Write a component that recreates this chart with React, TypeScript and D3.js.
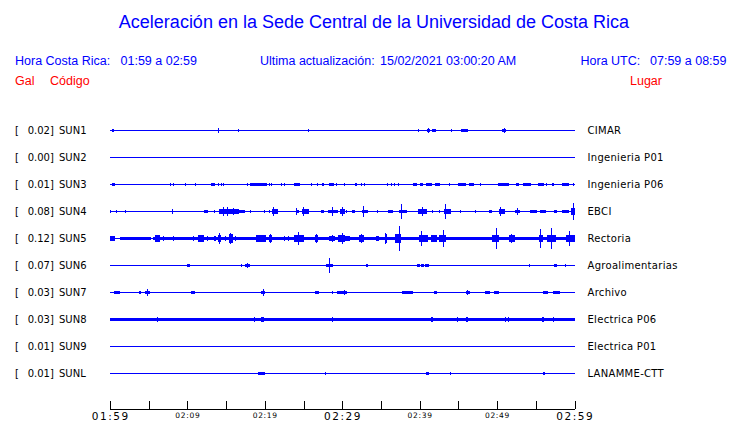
import React from "react";
import * as d3 from "d3";

type Ev = [number, number, number]; // [start minute, end minute, half-amplitude in Gal]

const stations = ["SUN1", "SUN2", "SUN3", "SUN4", "SUN5", "SUN6", "SUN7", "SUN8", "SUN9", "SUNL"];
const peakGal = ["0.02", "0.00", "0.01", "0.08", "0.12", "0.07", "0.03", "0.03", "0.01", "0.01"];
const places = ["CIMAR", "Ingenieria P01", "Ingenieria P06", "EBCI", "Rectoria", "Agroalimentarias", "Archivo", "Electrica P06", "Electrica P01", "LANAMME-CTT"];
const noiseGal = [0, 0, 0, 0, 0, 0, 0, 0.018, 0, 0];

const tickMinutes = [0, 5, 10, 15, 20, 25, 30, 35, 40, 45, 50, 55, 60];
const labelMinutes = [0, 10, 20, 30, 40, 50, 60];
const axisLabels = ["01:59", "02:09", "02:19", "02:29", "02:39", "02:49", "02:59"];
const bigLabels = ["01:59", "02:29", "02:59"];

const sun1: Ev[] = [[0.2,0.5,0.013],[14.0,14.0,0.022],[16.6,16.6,0.013],[25.6,25.6,0.012],[39.9,39.9,0.01],[40.95,41.3,0.015],[41.1,41.1,0.024],[41.64,42.16,0.013],[44.1,44.1,0.01],[45.4,46.3,0.013],[50.6,51.1,0.015],[50.9,50.9,0.02],[57.7,57.7,0.008]];
const sun2: Ev[] = [];
const sun3: Ev[] = [[0.3,0.6,0.013],[7.0,7.0,0.008],[7.8,7.8,0.012],[8.2,8.2,0.012],[9.7,9.7,0.012],[11.1,11.1,0.012],[13.0,13.6,0.013],[14.0,14.0,0.012],[14.4,14.4,0.012],[14.7,14.7,0.012],[15.4,15.4,0.008],[17.8,17.8,0.01],[18.1,20.3,0.014],[20.6,20.6,0.012],[20.9,20.9,0.012],[22.2,22.2,0.012],[22.5,22.5,0.012],[23.8,24.6,0.013],[26.0,26.0,0.01],[26.8,26.8,0.01],[27.4,27.6,0.012],[28.3,28.9,0.013],[29.3,29.3,0.01],[30.3,30.3,0.01],[31.7,31.9,0.012],[32.5,32.5,0.01],[32.9,32.9,0.01],[34.9,34.9,0.008],[35.9,35.9,0.01],[36.4,36.4,0.01],[36.8,36.8,0.01],[37.3,37.3,0.01],[38.7,38.7,0.008],[39.1,39.7,0.013],[40.0,40.4,0.013],[40.8,41.6,0.013],[42.0,42.6,0.012],[43.3,43.3,0.008],[43.9,43.9,0.01],[44.9,46.0,0.012],[46.4,47.0,0.012],[47.8,47.8,0.01],[50.1,51.6,0.012],[52.5,52.8,0.012],[53.4,54.4,0.013],[55.3,56.0,0.012],[56.4,56.4,0.01],[57.1,57.3,0.012],[58.4,59.3,0.013],[59.9,59.9,0.01]];
const sun4: Ev[] = [[0.05,0.05,0.012],[0.9,0.9,0.01],[2.0,2.0,0.01],[8.0,8.2,0.012],[8.1,8.1,0.026],[12.2,12.7,0.013],[13.5,13.5,0.012],[14.1,16.5,0.022],[14.6,14.6,0.048],[15.2,15.2,0.04],[16.0,16.0,0.038],[16.5,17.5,0.015],[16.6,16.6,0.028],[18.1,18.1,0.01],[19.96,19.96,0.01],[20.6,20.6,0.012],[20.9,21.7,0.02],[21.1,21.1,0.04],[24.0,24.4,0.015],[24.1,24.1,0.03],[24.8,25.7,0.02],[25.0,25.0,0.048],[26.3,26.3,0.008],[27.2,27.7,0.015],[28.2,29.4,0.017],[28.75,28.75,0.04],[29.7,30.3,0.02],[30.0,30.0,0.04],[30.6,30.6,0.01],[31.3,31.6,0.012],[32.6,33.3,0.018],[32.8,32.8,0.05],[34.5,34.5,0.01],[35.9,36.6,0.013],[37.3,38.4,0.015],[37.6,37.6,0.075],[39.8,41.0,0.02],[40.4,40.4,0.04],[41.7,41.7,0.01],[42.5,42.5,0.01],[43.1,44.0,0.02],[43.4,43.4,0.07],[45.3,45.3,0.01],[47.2,47.2,0.01],[48.9,49.4,0.012],[50.2,51.0,0.02],[50.4,50.4,0.04],[52.3,53.0,0.015],[52.7,52.7,0.03],[54.2,55.2,0.014],[55.5,56.3,0.014],[57.3,57.8,0.013],[58.4,59.3,0.012],[59.6,60.0,0.03],[59.85,59.85,0.08]];
const sun5: Ev[] = [[0,0.65,0.02],[1.3,5.3,0.017],[5.6,60,0.018],[5.8,6.5,0.03],[6.0,6.0,0.038],[6.9,6.9,0.025],[8.2,8.2,0.02],[10.8,10.8,0.025],[11.4,12.1,0.03],[11.6,11.6,0.035],[12.6,12.6,0.02],[13.4,13.75,0.025],[14.0,14.4,0.035],[14.1,14.1,0.058],[14.9,14.9,0.025],[15.4,15.9,0.04],[15.6,15.6,0.058],[16.25,16.25,0.025],[18.9,20.1,0.03],[20.5,20.9,0.035],[20.7,20.7,0.045],[22.5,22.5,0.025],[23.1,23.1,0.02],[23.75,25.0,0.035],[24.4,24.4,0.064],[26.5,26.9,0.03],[26.7,26.7,0.045],[28.3,29.1,0.025],[28.7,28.7,0.035],[29.4,30.3,0.035],[30.0,30.0,0.055],[30.3,31.0,0.025],[32.2,32.8,0.035],[32.5,32.5,0.045],[34.4,34.7,0.025],[35.5,35.8,0.04],[35.6,35.6,0.055],[36.8,37.6,0.04],[37.4,37.4,0.12],[39.9,41.1,0.03],[40.3,40.3,0.075],[41.4,42.2,0.03],[42.5,43.4,0.035],[43.1,43.1,0.083],[49.3,50.3,0.035],[49.9,49.9,0.105],[51.5,52.3,0.03],[51.8,51.8,0.04],[55.4,55.9,0.035],[55.6,55.6,0.09],[56.5,57.6,0.035],[57.0,57.0,0.1],[58.9,60,0.035],[59.3,59.3,0.07]];
const sun6: Ev[] = [[8.0,8.0,0.008],[10.0,10.3,0.012],[16.9,17.1,0.012],[17.5,18.1,0.015],[17.8,17.8,0.02],[24.9,24.9,0.008],[27.9,28.75,0.015],[28.3,28.3,0.069],[29.3,29.3,0.008],[33.1,33.3,0.012],[36.6,36.6,0.008],[37.3,37.3,0.008],[37.8,37.8,0.008],[39.7,40.0,0.01],[40.2,40.5,0.01],[40.7,41.2,0.01],[51.5,51.5,0.008],[54.2,54.2,0.01],[57.3,57.7,0.012],[58.9,58.9,0.015]];
const sun7: Ev[] = [[0.55,1.25,0.013],[3.8,4.0,0.015],[4.5,5.2,0.018],[4.9,4.9,0.035],[6.8,6.8,0.008],[7.4,7.4,0.008],[10.4,11.0,0.013],[19.5,20.0,0.012],[19.8,19.8,0.03],[20.8,20.8,0.008],[21.25,21.25,0.008],[25.4,25.4,0.008],[26.5,27.0,0.012],[27.7,27.7,0.008],[28.75,28.75,0.01],[29.35,30.2,0.01],[29.9,30.6,0.012],[30.3,30.3,0.025],[32.6,32.6,0.008],[33.5,33.5,0.008],[34.8,34.8,0.008],[37.7,39.2,0.01],[41.5,41.5,0.008],[41.8,42.2,0.012],[44.9,44.9,0.008],[46.0,46.5,0.013],[46.2,46.2,0.02],[48.5,49.1,0.012],[49.6,50.3,0.01],[51.6,51.6,0.008],[55.9,56.6,0.013],[57.2,58.1,0.013],[59.6,59.6,0.008]];
const sun8: Ev[] = [[6.2,6.2,0.022],[18.7,18.7,0.022],[19.5,19.9,0.024],[28.75,28.75,0.023],[41.4,41.7,0.024],[44.9,44.9,0.022],[46.0,46.2,0.024],[51.1,51.1,0.024],[51.5,51.5,0.024],[55.8,56.0,0.024],[57.2,57.4,0.025]];
const sun9: Ev[] = [[19.8,19.8,0.008],[41.6,41.6,0.008],[44.6,44.6,0.008],[45.1,45.1,0.008]];
const sunL: Ev[] = [[6.2,6.2,0.008],[6.4,6.4,0.008],[6.8,6.8,0.008],[11.2,11.2,0.008],[16.1,16.1,0.008],[18.7,18.7,0.008],[19.1,20.0,0.01],[26.2,26.2,0.008],[27.9,27.9,0.01],[36.1,36.1,0.008],[40.8,41.2,0.01],[41.4,41.4,0.008],[42.2,42.2,0.008],[43.9,44.1,0.01],[50.6,50.6,0.008],[51.5,51.5,0.008],[55.9,56.2,0.01],[57.8,57.8,0.008],[58.2,58.2,0.008],[58.9,58.9,0.008]];

const traces: Ev[][] = [sun1, sun2, sun3, sun4, sun5, sun6, sun7, sun8, sun9, sunL];

const W = 740;
const H = 423;
const BLUE = "#0000ff";
const RED = "#ff0000";
const SANS = "'Liberation Sans', Arial, sans-serif";
const DEJAVU = "'DejaVu Sans', sans-serif";

export default function App() {
  const x = d3.scaleLinear().domain([0, 60]).range([110, 574.5]);
  const y = d3.scalePoint<string>().domain(stations).range([130.5, 373.5]);
  const amp = d3.scaleLinear().domain([0, 0.12]).range([0, 12.3]);
  const axisY = 409;

  const half = (g: number) => Math.max(0.5, amp(g));

  return (
    <svg
      width={W}
      height={H}
      style={{ position: "absolute", left: 0, top: 0, background: "#fff" }}
    >
      <rect x={0} y={0} width={W} height={H} fill="#fff" />
      <text x={374} y={28} textAnchor="middle" fontFamily={SANS} fontSize={18} fill={BLUE}>
        Aceleración en la Sede Central de la Universidad de Costa Rica
      </text>

      <g fontFamily={SANS} fontSize={12.5} fill={BLUE}>
        <text x={15} y={65}>Hora Costa Rica:</text>
        <text x={120.5} y={65}>01:59 a 02:59</text>
        <text x={260} y={65}>Ultima actualización:</text>
        <text x={380} y={65}>15/02/2021 03:00:20 AM</text>
        <text x={580.5} y={65}>Hora UTC:</text>
        <text x={650} y={65}>07:59 a 08:59</text>
      </g>
      <g fontFamily={SANS} fontSize={12.5} fill={RED}>
        <text x={15} y={85}>Gal</text>
        <text x={50} y={85}>Código</text>
        <text x={630} y={85}>Lugar</text>
      </g>

      {stations.map((s, i) => {
        const cy = y(s) as number;
        const n = half(noiseGal[i]);
        return (
          <g key={s}>
            <g fontFamily={DEJAVU} fontSize={10} fill="#000">
              <text x={15} y={cy + 3.8}>[</text>
              <text x={27.7} y={cy + 3.8}>{peakGal[i] + "]"}</text>
              <text x={59} y={cy + 3.8}>{s}</text>
              <text x={587.5} y={cy + 3.8} letterSpacing={0.3}>{places[i]}</text>
            </g>
            <g fill={BLUE} shapeRendering="crispEdges">
              <rect x={x(0)} y={cy - n} width={x(60) - x(0)} height={2 * n} />
              {traces[i].map((e, j) => {
                const h = half(e[2]);
                const x0 = e[1] > e[0] ? x(e[0]) : x(e[0]) - 0.5;
                const w = Math.max(1, x(e[1]) - x(e[0]));
                return <rect key={j} x={x0} y={cy - h} width={w} height={2 * h} />;
              })}
            </g>
          </g>
        );
      })}

      <g stroke="#000" strokeWidth={1} shapeRendering="crispEdges">
        <line x1={x(0)} x2={x(60)} y1={axisY + 0.5} y2={axisY + 0.5} />
        {tickMinutes.map((m) => (
          <line key={m} x1={Math.round(x(m)) + 0.5} x2={Math.round(x(m)) + 0.5} y1={axisY - 8} y2={axisY} />
        ))}
      </g>
      <g fontFamily={DEJAVU} fill="#000" textAnchor="middle">
        {labelMinutes.map((m, i) => {
          const big = bigLabels.includes(axisLabels[i]);
          return (
            <text
              key={m}
              x={x(m) + (big ? 0.75 : 0.4)}
              y={big ? 420 : 417.5}
              fontSize={big ? 10.5 : 7.5}
              letterSpacing={big ? 1.5 : 0.7}
            >
              {axisLabels[i]}
            </text>
          );
        })}
      </g>
    </svg>
  );
}
